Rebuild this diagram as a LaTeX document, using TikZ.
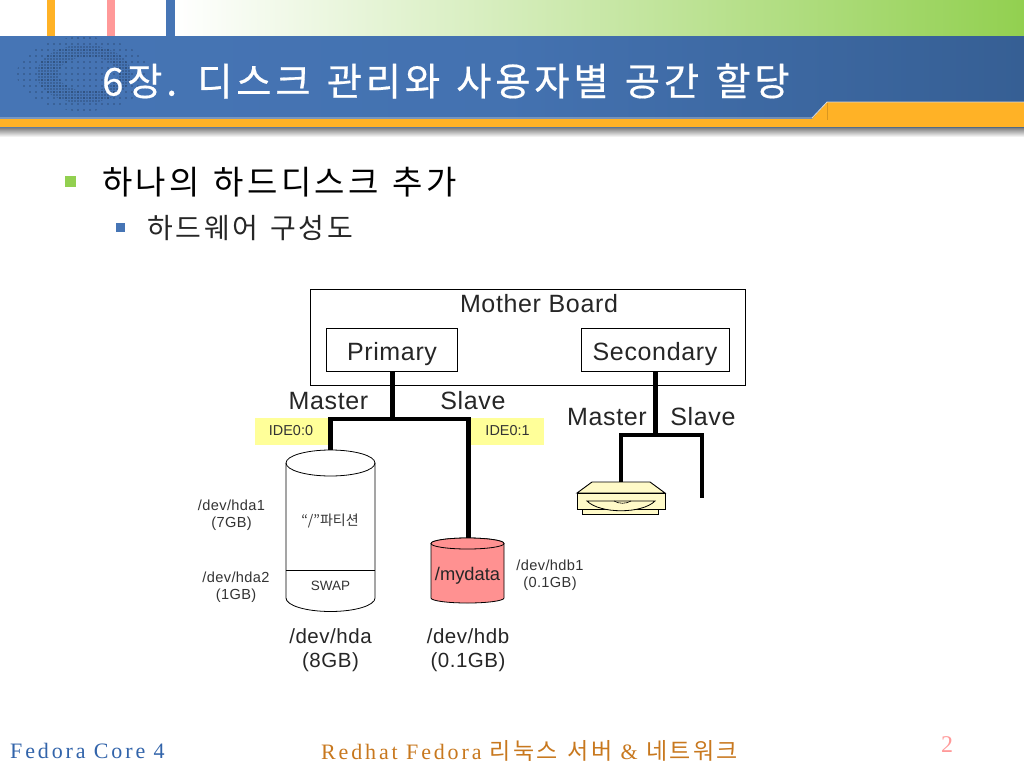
\documentclass[tikz,border=0pt]{standalone}
\usepackage{fontspec}
\setmainfont{Liberation Sans}
\newfontfamily\krfont{Noto Sans CJK KR}
\newfontfamily\krwide[LetterSpace=10,WordSpace=1.3]{Noto Sans CJK KR}
\newfontfamily\krtitle[LetterSpace=10,WordSpace=1.3,FakeBold=0.5]{Noto Sans CJK KR}
\newfontfamily\serifface[LetterSpace=13]{Liberation Serif}
\newfontfamily\sanswide[LetterSpace=2.6]{Liberation Sans}
\usetikzlibrary{calc}
\definecolor{hdrblue}{RGB}{70,117,181}
\definecolor{hdrdark}{RGB}{54,95,148}
\definecolor{hdrorange}{RGB}{255,178,38}
\definecolor{hdrgreen}{RGB}{146,208,80}
\definecolor{hdrpink}{RGB}{255,153,153}
\definecolor{labelyellow}{RGB}{255,255,153}
\definecolor{drivecream}{RGB}{255,250,200}
\definecolor{diskred}{RGB}{255,145,145}
\definecolor{foottext}{RGB}{200,120,30}
\definecolor{footblue}{RGB}{50,100,170}
\tikzset{
  x=1pt,y=-1pt,
  boxed/.style={draw=black,line width=0.8pt,inner sep=0pt,minimum height=43pt,text height=26pt,text depth=5pt},
  bus/.style={line width=4.3pt,draw=black,line cap=butt,line join=miter},
  lbl/.style={inner sep=0pt,font=\sanswide\fontsize{25}{25}\selectfont,text=black!85},
  small/.style={inner sep=0pt,align=center,font=\sanswide\fontsize{14.6}{17}\selectfont,text=black!80},
  mid/.style={inner sep=0pt,align=center,font=\sanswide\fontsize{20.5}{23.5}\selectfont,text=black!85},
  tag/.style={fill=labelyellow,inner sep=0pt,minimum width=73pt,minimum height=27pt,font=\fontsize{14.4}{16}\selectfont,text=black!80},
  outl/.style={draw=black,line width=0.8pt}
}
\begin{document}
\begin{tikzpicture}
\useasboundingbox (0,0) rectangle (1024,768);
\fill[white] (0,0) rectangle (1024,768);
% top strip
\shade[left color=white,right color=hdrgreen] (175,0) rectangle (1024,37);
\fill[hdrorange] (47,0) rectangle (55,37);
\fill[hdrpink] (107,0) rectangle (115,37);
\fill[hdrblue] (166,0) rectangle (175,37);
% shadow below banner
\shade[top color=black!60,bottom color=white] (0,126) rectangle (1024,137);
% banner
\shade[left color=hdrblue,right color=hdrdark,middle color=hdrblue!85!hdrdark] (0,37) rectangle (1024,127);
\fill[hdrorange] (0,119) -- (812,119) -- (827,102) -- (1024,102) -- (1024,127) -- (0,127) -- cycle;
\draw[white!85!black,line width=0.8pt] (0,118) -- (812,118) -- (827,102) -- (1024,102);
\draw[hdrorange!85!black,line width=0.4pt] (827,103) -- (827,120);
% halftone ornament
\begin{scope}
  \clip (83,74) ellipse[x radius=66,y radius=37];
  \foreach \i in {18,24,...,150} \foreach \j in {38,44,...,110}
    \fill[black!60!hdrdark] (\i,\j) circle (0.6);
\end{scope}
\begin{scope}[even odd rule]
  \clip (84,74) ellipse[x radius=47,y radius=29] (88,74) ellipse[x radius=30,y radius=17];
  \foreach \i in {36,39,...,132} \foreach \j in {44,47,...,104}
    \fill[black!60!hdrdark] (\i,\j) circle (0.7);
\end{scope}
\node[anchor=west,inner sep=0pt,text=white,font=\krtitle\fontsize{38.3}{38.3}\selectfont] (title) at (102,81) {6장. 디스크 관리와 사용자별 공간 할당};
% bullets
\fill[hdrgreen] (65,176) rectangle (76,187);
\node[anchor=west,inner sep=0pt,font=\krwide\fontsize{33}{33}\selectfont] (b1) at (102,182) {하나의 하드디스크 추가};
\fill[hdrblue] (116,223) rectangle (125,232);
\node[anchor=west,inner sep=0pt,font=\krwide\fontsize{28}{28}\selectfont,text=black!85] (b2) at (147,228) {하드웨어 구성도};
% mother board
\node[draw=black,line width=0.8pt,minimum width=435pt,minimum height=96pt,inner sep=0pt] (mb) at (528,337) {};
\node[lbl] (mbl) at (539,304) {Mother Board};
\node[boxed,minimum width=131pt,lbl] (pri) at (392,350) {Primary};
\node[boxed,minimum width=148pt,lbl] (sec) at (655,350) {Secondary};
% labels
\node[lbl] (m1) at (328.5,401) {Master};
\node[lbl] (s1) at (473,401) {Slave};
\node[lbl] (m2) at (607,417) {Master};
\node[lbl] (s2) at (703,417) {Slave};
\node[tag] (ide0) at (291,431) {IDE0:0};
\node[tag] (ide1) at (507.5,431) {IDE0:1};
% big disk
\fill[white] (286,463) -- (286,598) arc[start angle=180,end angle=0,x radius=44.5,y radius=13.5] -- (375,463) arc[start angle=0,end angle=-180,x radius=44.5,y radius=13] -- cycle;
\draw[outl] (286,463) -- (286,598) arc[start angle=180,end angle=0,x radius=44.5,y radius=13.5] -- (375,463);
\draw[outl] (330.5,463) ellipse[x radius=44.5,y radius=13];
\draw[outl] (286,570.5) -- (375,570.5);
\coordinate (hdatop) at (330.5,450);
\node[inner sep=0pt,font=\krfont\fontsize{14}{16}\selectfont,text=black!80] (part) at (330,521) {“/”파티션};
\node[inner sep=0pt,font=\fontsize{13.5}{16}\selectfont,text=black!80] (swap) at (330.5,586) {SWAP};
% small disk
\draw[outl,fill=diskred] (431,543.5) -- (431,598) arc[start angle=180,end angle=0,x radius=36.5,y radius=5] -- (504,543.5) arc[start angle=0,end angle=-180,x radius=36.5,y radius=5.5] -- cycle;
\draw[outl,fill=diskred] (467.5,543.5) ellipse[x radius=36.5,y radius=5.5];
\coordinate (hdbtop) at (468.5,538);
\node[inner sep=0pt,font=\fontsize{18.3}{20}\selectfont,text=black!85] (mydata) at (467.5,576) {/mydata};
% optical drive
\fill[drivecream,draw=black,line width=0.9pt] (582,507) rectangle (658,514);
\fill[drivecream,draw=black,line width=0.9pt] (577,493) -- (592,482) -- (650,482) -- (665,493) -- cycle;
\fill[drivecream,draw=black,line width=0.9pt] (577,493) rectangle (665,509);
\draw[line width=0.8pt,fill=drivecream] (587,501) .. controls (600,514) and (642,514) .. (655,501) -- cycle;
\draw[line width=0.6pt] (614,501) .. controls (619,504) and (626,504) .. (631,501);
\coordinate (drvtop) at (621,482);
\coordinate (slvend) at (702,498);
% side labels
\node[small] (a1) at (231.5,515.5) {/dev/hda1\\(7GB)};
\node[small] (a2) at (236,587.5) {/dev/hda2\\(1GB)};
\node[small] (b1l) at (550,575.5) {/dev/hdb1\\(0.1GB)};
\node[mid] (hda) at (330.5,650) {/dev/hda\\(8GB)};
\node[mid] (hdb) at (468,650) {/dev/hdb\\(0.1GB)};
% buses
\coordinate (j1) at (392.5,419);
\coordinate (j2) at (655.5,435);
\draw[bus] (pri.south -| j1) -- (j1);
\draw[bus] (hdatop) -- (hdatop |- j1) -- (hdbtop |- j1) -- (hdbtop);
\draw[bus] (sec.south -| j2) -- (j2);
\draw[bus] (drvtop) -- (drvtop |- j2) -- (slvend |- j2) -- (slvend);
% footer
\node[anchor=west,inner sep=0pt,text=footblue,font=\serifface\fontsize{22}{22}\selectfont] (f1) at (10,751) {Fedora Core 4};
\node[anchor=west,inner sep=0pt,text=foottext,font=\serifface\fontsize{22}{22}\selectfont] (f2) at (321,751) {Redhat Fedora {\krwide\fontsize{23}{23}\selectfont 리눅스 서버} \& {\krwide\fontsize{23}{23}\selectfont 네트워크}};
\node[inner sep=0pt,text=hdrpink,font=\serifface\fontsize{24}{24}\selectfont] (f3) at (947,745) {2};
\end{tikzpicture}
\end{document}
